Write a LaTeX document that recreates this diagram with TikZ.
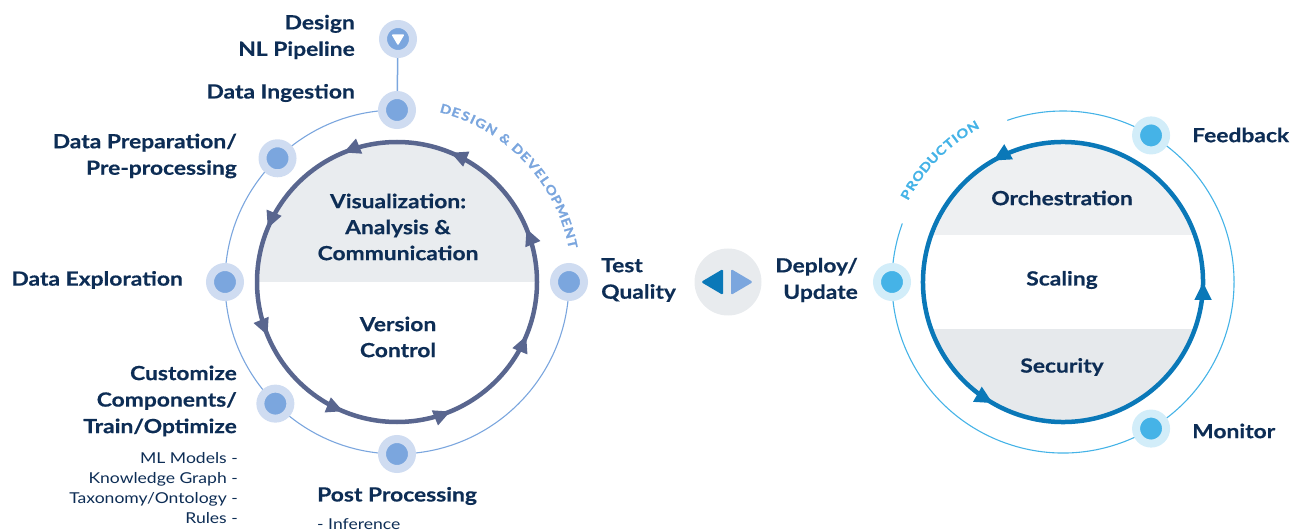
\documentclass[tikz,border=0pt]{standalone}
\usepackage{fontspec}
\setmainfont{Lato}[FakeStretch=1.17]
\usetikzlibrary{arrows.meta,decorations.markings}
\definecolor{navy}{HTML}{0D2D55}
\definecolor{slate}{HTML}{59668F}
\definecolor{ldotc}{HTML}{7BA6DE}
\definecolor{lhalo}{HTML}{CFDCF1}
\definecolor{rblue}{HTML}{0A78B8}
\definecolor{rdotc}{HTML}{45B3E7}
\definecolor{rhalo}{HTML}{D2EDF9}
\definecolor{fillgray}{HTML}{E9ECEF}
\definecolor{fillgraya}{HTML}{EEF0F2}
\definecolor{fillgrayb}{HTML}{E6E9EC}
\definecolor{swgray}{HTML}{E8EBEE}
\pgfdeclarelayer{bg}
\pgfsetlayers{bg,main}
\begin{document}
\begin{tikzpicture}[x=1pt,y=1pt,
  lbl/.style={text=navy, font=\fontsize{19.5}{26.5}\selectfont\bfseries\addfontfeatures{FakeBold=0.5}, inner sep=0pt},
  inlbl/.style={text=navy, font=\fontsize{19.5}{26}\selectfont\bfseries\addfontfeatures{FakeBold=0.5}, inner sep=0pt, align=center},
  smalllbl/.style={text=navy, font=\fontsize{15}{20}\selectfont, inner sep=0pt},
  ldotst/.style={circle, fill=ldotc, draw=lhalo, line width=8pt, minimum size=30pt, inner sep=0pt},
  rdotst/.style={circle, fill=rdotc, draw=rhalo, line width=8pt, minimum size=30pt, inner sep=0pt},
  arclbl/.style={font=\fontsize{12.5}{13}\selectfont\bfseries\addfontfeatures{FakeBold=1.2}, inner sep=0pt, anchor=base},
]
\useasboundingbox (0,0) rectangle (1302,531);
\coordinate (L) at (397,249);
\coordinate (R) at (1063,249);

% ---------- left cycle ----------
\fill[fillgray] ([shift={(0:140)}]L) arc (0:180:140) -- cycle;
\draw[slate, line width=4.5pt, postaction={decorate},
  decoration={markings, mark=between positions 0.0625 and 1 step 0.125 with {\arrow[slate]{Triangle[length=17pt,width=15pt]}}}]
  ([shift={(0:140)}]L) arc (0:360:140);

\node[ldotst] (des) at (398,492) {};
\node[ldotst] (ing) at ([shift={(90:172)}]L) {};
\node[ldotst] (prep) at ([shift={(134:172)}]L) {};
\node[ldotst] (expl) at ([shift={(180:172)}]L) {};
\node[ldotst] (cust) at ([shift={(225:172)}]L) {};
\node[ldotst] (post) at ([shift={(270:172)}]L) {};
\node[ldotst] (test) at ([shift={(0:172)}]L) {};
\fill[white, rounded corners=1pt] ([shift={(-6.5,4.5)}]des.center) -- ++(13,0) -- ++(-6.5,-11) -- cycle;

\begin{pgfonlayer}{bg}
\draw[ldotc, line width=1.1pt] ([shift={(90:172)}]L) arc (90:360:172);
\draw[ldotc, line width=1.5pt] (des.center) -- (ing.center);
\end{pgfonlayer}

\foreach \c/\a [count=\i] in {D/74.2,E/70.8,S/67.5,I/65.0,G/62.2,N/58.3,\&/52.9,D/47.7,E/44.3,V/40.8,E/37.4,L/34.3,O/30.8,P/27.2,M/23.3,E/19.5,N/15.9,T/12.3}{
  \node[arclbl, text=ldotc, rotate=\a-90] (dd\i) at ([shift={(\a:175)}]L) {\c};
}

\node[lbl, anchor=east, align=right] (tdes) at (355,494) {Design\\NL Pipeline};
\node[lbl, anchor=east] (ting) at (355,438) {Data Ingestion};
\node[lbl, anchor=east, align=right] (tprep) at (237,375) {Data Preparation/\\Pre-processing};
\node[lbl, anchor=east] (texpl) at (183,251) {Data Exploration};
\node[lbl, anchor=east, align=right] (tcust) at (237,130) {Customize\\Components/\\Train/Optimize};
\node[smalllbl, anchor=east, align=right] (tlist) at (238,43) {ML Models -\\Knowledge Graph -\\Taxonomy/Ontology -\\Rules -};
\node[lbl, anchor=west] (tpost) at (317,35) {Post Processing};
\node[smalllbl, anchor=west] (tinf) at (317,7) {- Inference};
\node[lbl, anchor=west, align=left] (ttest) at (601,251) {Test\\Quality};

\node[inlbl] (tvis) at (398,304) {Visualization:\\Analysis \&\\Communication};
\node[inlbl] (tver) at (398,194) {Version\\Control};

% ---------- switch ----------
\node[circle, fill=swgray, minimum size=67pt, inner sep=0pt] (sw) at (728,249) {};
\fill[rblue, rounded corners=1.5pt] (701,249) -- (723,262) -- (723,236) -- cycle;
\fill[ldotc, rounded corners=1.5pt] (753,249) -- (731,262) -- (731,236) -- cycle;

% ---------- right cycle ----------
\begin{scope}
\clip (R) circle (140);
\fill[fillgraya] (920,296) rectangle (1210,395);
\fill[fillgrayb] (920,202) rectangle (1210,100);
\end{scope}
\draw[rblue, line width=4.5pt, postaction={decorate},
  decoration={markings, mark=between positions 0.16667 and 1 step 0.33333 with {\arrow[rblue]{Triangle[length=18pt,width=16pt]}}}]
  ([shift={(-60:140)}]R) arc (-60:300:140);

\node[rdotst] (dep) at ([shift={(180:171)}]R) {};
\node[rdotst] (feed) at ([shift={(59:171)}]R) {};
\node[rdotst] (mon) at ([shift={(-59:171)}]R) {};

\begin{pgfonlayer}{bg}
\draw[rdotc, line width=1.1pt] ([shift={(160:171)}]R) arc (160:469:171);
\end{pgfonlayer}

\foreach \c/\a [count=\i] in {P/150.9,R/147.5,O/143.8,D/140.0,U/136.4,C/132.9,T/129.5,I/127.0,O/124.1,N/120.1}{
  \node[arclbl, text=rdotc, rotate=\a-90] (pp\i) at ([shift={(\a:175)}]R) {\c};
}

\node[lbl, anchor=east, align=right] (tdep) at (858,251) {Deploy/\\Update};
\node[lbl, anchor=west] (tfeed) at (1192,396) {Feedback};
\node[lbl, anchor=west] (tmon) at (1192,100) {Monitor};

\node[inlbl] (torch) at (1062,333) {Orchestration};
\node[inlbl] (tscal) at (1062,251) {Scaling};
\node[inlbl] (tsec) at (1062,164) {Security};
\end{tikzpicture}
\end{document}
